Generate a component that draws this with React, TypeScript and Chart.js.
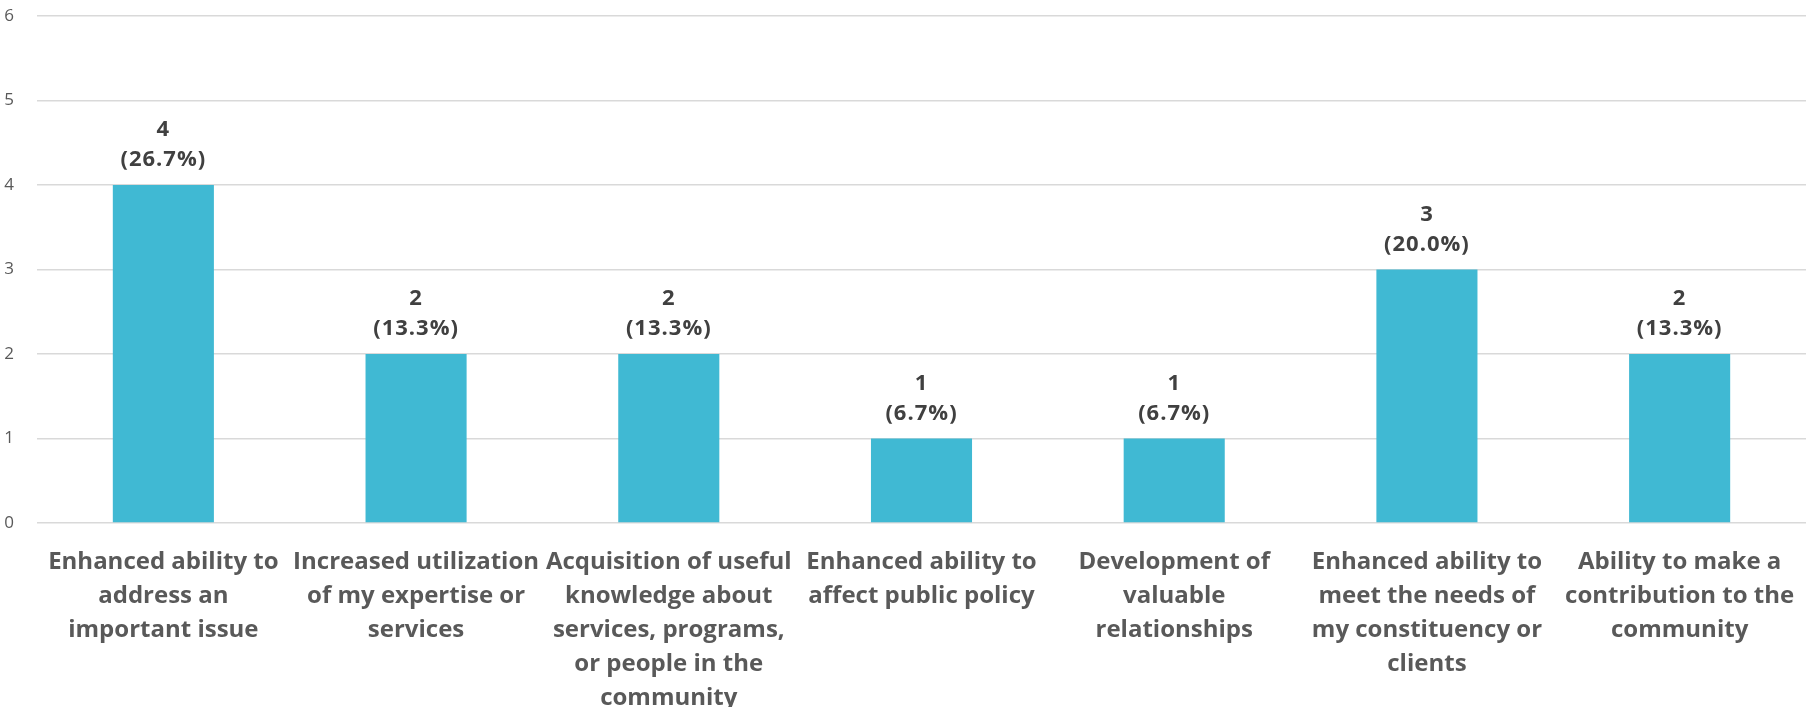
import React, { useEffect, useRef } from "react";
import { Chart, registerables } from "chart.js";

Chart.register(...registerables);

const categories: string[][] = [
  ["Enhanced ability to", "address an", "important issue"],
  ["Increased utilization", "of my expertise or", "services"],
  ["Acquisition of useful", "knowledge about", "services, programs,", "or people in the", "community"],
  ["Enhanced ability to", "affect public policy"],
  ["Development of", "valuable", "relationships"],
  ["Enhanced ability to", "meet the needs of", "my constituency or", "clients"],
  ["Ability to make a", "contribution to the", "community"],
];
const counts: number[] = [4, 2, 2, 1, 1, 3, 2];
const percents: string[] = ["26.7%", "13.3%", "13.3%", "6.7%", "6.7%", "20.0%", "13.3%"];
const yTicks: number[] = [0, 1, 2, 3, 4, 5, 6];

const FONT = "'Open Sans', Lato, sans-serif";

const valueLabels = {
  id: "valueLabels",
  afterDatasetsDraw(chart: any) {
    const ctx = chart.ctx;
    const meta = chart.getDatasetMeta(0);
    ctx.save();
    ctx.fillStyle = "#404040";
    ctx.font = `bold 22px ${FONT}`;
    try {
      (ctx as any).letterSpacing = "1px";
    } catch (e) {}
    ctx.textAlign = "center";
    ctx.textBaseline = "middle";
    meta.data.forEach((bar: any, i: number) => {
      const x = bar.x;
      const y = bar.y;
      ctx.fillText(String(counts[i]), x, y - 55);
      ctx.fillText(`(${percents[i]})`, x, y - 25);
    });
    ctx.restore();
  },
};

export default function App() {
  const ref = useRef<HTMLCanvasElement>(null);
  useEffect(() => {
    if (!ref.current) return;
    const chart = new Chart(ref.current, {
      type: "bar",
      data: {
        labels: categories,
        datasets: [
          {
            data: counts,
            backgroundColor: "#40B9D3",
            borderWidth: 0,
            barPercentage: 0.4,
            categoryPercentage: 1,
          },
        ],
      },
      options: {
        animation: false,
        responsive: false,
        maintainAspectRatio: false,
        layout: { padding: { top: 16, right: 0, left: 0, bottom: 0 } },
        plugins: {
          legend: { display: false },
          tooltip: { enabled: false },
        },
        scales: {
          x: {
            grid: { display: false, drawTicks: false },
            border: { display: false },
            ticks: {
              color: "#595959",
              font: { family: FONT, size: 24, weight: "bold", lineHeight: 1.42 },
              maxRotation: 0,
              minRotation: 0,
              autoSkip: false,
              padding: 22,
            },
            afterFit(scale: any) {
              scale.height = 184;
              scale.paddingLeft = 0;
              scale.paddingRight = 0;
            },
          },
          y: {
            min: 0,
            max: 6,
            afterBuildTicks(scale: any) {
              scale.ticks = yTicks.map((v) => ({ value: v }));
            },
            grid: { color: "#D9D9D9", lineWidth: 1.5, drawTicks: false },
            border: { display: false },
            ticks: {
              color: "#595959",
              font: { family: FONT, size: 17 },
              padding: 23,
            },
            afterFit(scale: any) {
              scale.width = 37;
              scale.paddingTop = 0;
              scale.paddingBottom = 0;
            },
          },
        },
      },
      plugins: [valueLabels],
    });
    return () => chart.destroy();
  }, []);
  return (
    <div style={{ position: "fixed", left: 0, top: 0, width: 1806, height: 707, background: "#fff" }}>
      <canvas ref={ref} width={1806} height={707} style={{ width: 1806, height: 707 }} />
    </div>
  );
}
